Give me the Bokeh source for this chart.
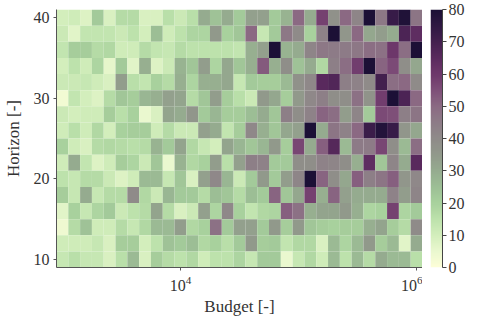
import numpy as np
from bokeh.plotting import figure
from bokeh.layouts import row
from bokeh.models import (ColumnDataSource, LinearColorMapper, FixedTicker,
                          LogTickFormatter, Range1d)
from bokeh.embed import file_html
from bokeh.resources import INLINE

# ---- data ----
budgets = [1000, 1259, 1585, 1995, 2512, 3162, 3981, 5012, 6310, 7943,
           10000, 12589, 15849, 19953, 25119, 31623, 39811, 50119, 63096, 79433,
           100000, 125893, 158489, 199526, 251189, 316228, 398107, 501187, 630957, 794328,
           1000000]
horizons = [40, 38, 36, 34, 32, 30, 28, 26, 24, 22, 20, 18, 16, 14, 12, 10]

h40 = [10, 11, 8, 22, 9, 17, 17, 9, 9, 16, 12, 16, 30, 24, 30, 22, 33, 33, 22, 28, 50, 30, 58, 38, 50, 42, 80, 46, 73, 79, 47]
h38 = [12, 7, 14, 14, 14, 12, 15, 10, 25, 11, 15, 19, 19, 35, 20, 23, 50, 13, 22, 46, 40, 20, 43, 80, 36, 50, 31, 34, 30, 68, 64]
h36 = [14, 21, 21, 17, 18, 11, 11, 17, 14, 13, 17, 15, 15, 15, 15, 14, 29, 33, 80, 28, 30, 42, 46, 45, 45, 46, 49, 48, 60, 49, 80]
h34 = [10, 15, 11, 19, 6, 22, 7, 29, 8, 12, 28, 23, 34, 19, 31, 23, 29, 53, 29, 39, 24, 30, 18, 44, 49, 59, 80, 51, 56, 39, 31]
h32 = [12, 12, 13, 11, 9, 34, 16, 14, 20, 17, 29, 19, 29, 29, 31, 13, 22, 21, 21, 26, 38, 41, 65, 67, 44, 43, 40, 70, 49, 50, 40]
h30 = [3, 14, 10, 8, 17, 23, 21, 27, 29, 33, 32, 17, 23, 34, 21, 16, 12, 35, 31, 21, 35, 41, 44, 39, 39, 48, 37, 59, 80, 68, 50]
h28 = [12, 10, 11, 11, 21, 16, 20, 5, 9, 32, 30, 36, 22, 27, 21, 21, 25, 30, 23, 44, 39, 43, 51, 49, 34, 42, 22, 56, 55, 44, 47]
h26 = [11, 16, 11, 18, 10, 20, 21, 21, 11, 17, 12, 12, 33, 30, 14, 21, 41, 29, 23, 31, 33, 80, 30, 47, 43, 50, 72, 78, 73, 36, 31]
h24 = [20, 11, 9, 17, 18, 17, 16, 17, 28, 22, 32, 18, 13, 10, 32, 27, 23, 27, 35, 21, 57, 30, 52, 66, 26, 45, 45, 57, 39, 26, 49]
h22 = [11, 30, 14, 8, 11, 21, 19, 12, 23, 5, 28, 18, 20, 34, 16, 33, 44, 43, 22, 22, 39, 39, 43, 42, 39, 29, 64, 23, 42, 30, 65]
h20 = [15, 13, 17, 17, 12, 8, 11, 26, 26, 13, 23, 9, 33, 41, 27, 12, 22, 35, 22, 34, 42, 80, 51, 39, 31, 52, 44, 47, 52, 36, 41]
h18 = [21, 13, 30, 13, 17, 17, 40, 18, 12, 27, 22, 22, 17, 25, 23, 17, 25, 22, 51, 23, 31, 58, 29, 51, 33, 30, 30, 30, 43, 34, 42]
h16 = [7, 20, 13, 19, 22, 12, 15, 17, 32, 17, 9, 12, 33, 19, 41, 20, 14, 18, 19, 52, 48, 29, 32, 32, 35, 29, 19, 20, 58, 19, 22]
h14 = [4, 17, 24, 11, 11, 17, 13, 18, 26, 26, 34, 18, 20, 48, 22, 33, 33, 22, 35, 21, 35, 23, 21, 20, 21, 21, 29, 32, 21, 17, 40]
h12 = [11, 11, 11, 13, 9, 21, 21, 10, 15, 24, 22, 25, 18, 20, 16, 22, 35, 21, 22, 14, 18, 18, 9, 26, 19, 26, 35, 21, 26, 7, 30]
h10 = [13, 16, 13, 13, 9, 16, 26, 9, 21, 17, 15, 18, 11, 15, 15, 19, 13, 22, 22, 5, 13, 18, 11, 26, 15, 26, 17, 30, 26, 26, 16]

rows = [h40, h38, h36, h34, h32, h30, h28, h26, h24, h22, h20, h18, h16, h14, h12, h10]

colorbar_ticks = [0, 10, 20, 30, 40, 50, 60, 70, 80]
x_ticks = [10000, 1000000]
y_ticks = [10, 20, 30, 40]
value_low, value_high = 0, 80

# ---- colormap (reversed "tokyo"-like) ----
anchors = ["#fdfed8", "#eaf8cf", "#d3eebc", "#bde2ac", "#a8d19d", "#9cbe95", "#95ab8f",
           "#91998b", "#8f8b89", "#8d7c87", "#8b6a83", "#7f5079", "#6e386b", "#5a2a5e",
           "#44204f", "#2f1843", "#1c1036"]

def hex2rgb(h):
    return np.array([int(h[i:i + 2], 16) for i in (1, 3, 5)], dtype=float)

arr = np.array([hex2rgb(h) for h in anchors])
pos = np.linspace(0, 1, len(anchors))
t = np.linspace(0, 1, 256)
palette = ["#%02x%02x%02x" % tuple(int(round(np.interp(v, pos, arr[:, k]))) for k in range(3)) for v in t]

# ---- build cells ----
half = 10 ** 0.05
left, right, bottom, top, val = [], [], [], [], []
for h, r in zip(horizons, rows):
    for b, v in zip(budgets, r):
        left.append(b / half)
        right.append(b * half)
        bottom.append(h - 1)
        top.append(h + 1)
        val.append(v)
src = ColumnDataSource(dict(left=left, right=right, bottom=bottom, top=top, val=val))

mapper = LinearColorMapper(palette=palette, low=value_low, high=value_high)

FONT = "Liberation Serif"
TXT = "#333333"
AX = "#555555"
FH = 258
TOP = 9
BOT = 46

p = figure(frame_width=366, frame_height=FH, x_axis_type="log",
           x_range=Range1d(budgets[0] / half, budgets[-1] * half),
           y_range=Range1d(min(horizons) - 1, max(horizons) + 1),
           output_backend="svg", toolbar_location=None,
           min_border_left=46, min_border_top=TOP, min_border_bottom=BOT, min_border_right=0)
p.quad(left="left", right="right", bottom="bottom", top="top", source=src,
       fill_color={"field": "val", "transform": mapper}, line_color=None)

p.outline_line_color = None
p.grid.visible = False

p.xaxis.ticker = FixedTicker(ticks=x_ticks, minor_ticks=[])
p.xaxis.formatter = LogTickFormatter()
p.yaxis.ticker = FixedTicker(ticks=y_ticks, minor_ticks=[])
p.xaxis.axis_label = "Budget [-]"
p.yaxis.axis_label = "Horizon [-]"
for ax in (p.xaxis[0], p.yaxis[0]):
    ax.axis_line_color = AX
    ax.major_tick_line_color = AX
    ax.major_tick_out = 3
    ax.major_tick_in = 0
    ax.minor_tick_line_color = None
    ax.major_label_text_font = FONT
    ax.major_label_text_font_size = "16px"
    ax.major_label_text_color = TXT
    ax.axis_label_text_font = FONT
    ax.axis_label_text_font_size = "17px"
    ax.axis_label_text_font_style = "normal"
    ax.axis_label_text_color = TXT
p.xaxis.major_label_standoff = 5
p.xaxis.axis_label_standoff = 3
p.yaxis.axis_label_standoff = 8
p.yaxis.major_label_standoff = 4

# ---- colour bar as its own small figure ----
levels = np.linspace(value_low, value_high, 256).reshape(-1, 1)
cb = figure(frame_width=12, frame_height=FH, x_range=Range1d(0, 1),
            y_range=Range1d(value_low, value_high), y_axis_location="right",
            output_backend="svg", toolbar_location=None,
            min_border_left=8, min_border_top=TOP, min_border_bottom=BOT, min_border_right=0)
cb.image(image=[levels], x=0, y=value_low, dw=1, dh=value_high - value_low, color_mapper=mapper)
cb.xaxis.visible = False
cb.grid.visible = False
cb.outline_line_color = None
ya = cb.yaxis[0]
ya.ticker = FixedTicker(ticks=colorbar_ticks, minor_ticks=[])
ya.axis_line_color = "#444444"
ya.major_tick_line_color = "#444444"
ya.major_tick_out = 4
ya.major_tick_in = 0
ya.minor_tick_line_color = None
ya.major_label_standoff = 2
ya.major_label_text_font = FONT
ya.major_label_text_font_size = "16px"
ya.major_label_text_color = TXT

layout = row(p, cb)
open("out.html", "w").write(file_html(layout, INLINE))
